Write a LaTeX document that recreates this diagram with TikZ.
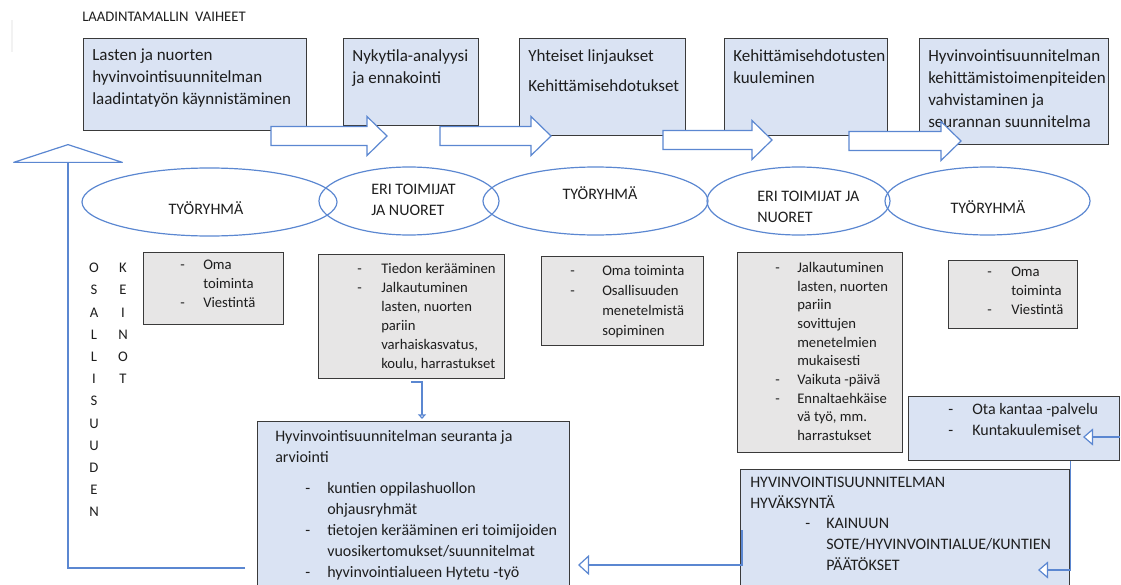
\documentclass[tikz,border=0pt]{standalone}
\usepackage{fontspec}
\setmainfont{Carlito}
\usetikzlibrary{positioning}
\usetikzlibrary{shapes.geometric}
\usetikzlibrary{arrows.meta}

\definecolor{laatikkosininen}{HTML}{DAE3F3}
\definecolor{laatikkoharmaa}{HTML}{E7E6E6}
\definecolor{viivasininen}{HTML}{5B87D1}
\definecolor{reunaharmaa}{HTML}{3A3A3A}
\definecolor{tekstimusta}{HTML}{1E1E1E}

\newcommand{\viiva}[1]{\makebox[#1][l]{-}}

\tikzset{
  laatikko/.style={draw=reunaharmaa, line width=1pt, fill=laatikkosininen, anchor=north west, inner sep=0pt},
  harmaa/.style={laatikko, fill=laatikkoharmaa},
  soikio/.style={ellipse, draw=viivasininen, line width=0.9pt, inner sep=0pt, minimum height=51pt},
  lohkonuoli/.style={draw=viivasininen, line width=0.9pt, fill=white},
  ohutnuoli/.style={draw=viivasininen, line width=0.9pt},
  teksti/.style={inner sep=0pt, align=left, text=tekstimusta},
  ylateksti/.style={teksti, font=\fontsize{12.75}{16.5}\selectfont},
  harmaateksti/.style={teksti, font=\fontsize{11}{14.25}\selectfont},
  alateksti/.style={teksti, font=\fontsize{12}{15.75}\selectfont},
  soikioteksti/.style={teksti, font=\fontsize{12}{16}\selectfont},
  pystyteksti/.style={teksti, align=center, anchor=north, font=\fontsize{11}{16.65}\selectfont},
}

\begin{document}
\begin{tikzpicture}[x=0.75pt, y=-0.75pt]
      \useasboundingbox (0,0) rectangle (1121,585);
      \clip (0,0) rectangle (1121,585);

      % otsikko
      \node[teksti, anchor=west, font=\fontsize{11}{13}\selectfont] (otsikko) at (82,17) {LAADINTAMALLIN\ \ VAIHEET};
      \draw[black!5, line width=1.5pt] (12,20) -- (12,52);

      % vaiheet
      \node[laatikko, minimum width=167.25pt, minimum height=69pt]    (kaynnistys) at (83,38)  {};
      \node[laatikko, minimum width=101.25pt, minimum height=65.25pt] (nykytila)   at (343,38) {};
      \node[laatikko, minimum width=124.5pt,  minimum height=72.75pt] (linjaukset) at (519,38) {};
      \node[laatikko, minimum width=122.25pt, minimum height=72.75pt] (kuuleminen) at (724,38) {};
      \node[laatikko, minimum width=141.75pt, minimum height=79.5pt]  (vahvistus)  at (919,38) {};

      \node[ylateksti, below right=8.25pt and 6.75pt of kaynnistys.north west] (kaynnistysteksti)
            {Lasten ja nuorten\\hyvinvointisuunnitelman\\laadintatyön käynnistäminen};
      \node[ylateksti, below right=8.25pt and 6.75pt of nykytila.north west]   (nykytilateksti)
            {Nykytila-analyysi\\ja ennakointi};
      \node[ylateksti, below right=8.25pt and 6.75pt of linjaukset.north west] (linjauksetteksti)
            {Yhteiset linjaukset\\[6pt]Kehittämisehdotukset};
      \node[ylateksti, below right=8.25pt and 6.75pt of kuuleminen.north west] (kuuleminenteksti)
            {Kehittämisehdotusten\\kuuleminen};
      \node[ylateksti, below right=8.25pt and 6.75pt of vahvistus.north west]  (vahvistusteksti)
            {Hyvinvointisuunnitelman\\kehittämistoimenpiteiden\\vahvistaminen ja\\seurannan suunnitelma};

      % nuolet vaiheiden välissä
      \foreach \xa/\xb/\yc in {271/367/136, 440/531/136, 663/752/140, 849/941/141}
            \draw[lohkonuoli] (\xa,\yc-9.5) -- (\xb,\yc-9.5) -- (\xb,\yc-19.5) -- (\xb+20,\yc)
                  -- (\xb,\yc+19.5) -- (\xb,\yc+9.5) -- (\xa,\yc+9.5) -- cycle;

      % toimijat
      \node[soikio, minimum width=191.25pt] (tyoryhma1) at (209.5,202) {};
      \node[soikio, minimum width=135pt]    (toimijat1) at (409,201)   {};
      \node[soikio, minimum width=168.75pt] (tyoryhma2) at (595.5,201) {};
      \node[soikio, minimum width=137.25pt] (toimijat2) at (798.5,201) {};
      \node[soikio, minimum width=153.75pt] (tyoryhma3) at (987.5,201) {};

      \node[soikioteksti]                    (tyoryhma1teksti) at (206,208) {TYÖRYHMÄ};
      \node[soikioteksti, anchor=north west] (toimijat1teksti) at (371,184) {ERI TOIMIJAT\\JA NUORET};
      \node[soikioteksti]                    (tyoryhma2teksti) at (600,193) {TYÖRYHMÄ};
      \node[soikioteksti, anchor=north west] (toimijat2teksti) at (757,191) {ERI TOIMIJAT JA\\NUORET};
      \node[soikioteksti]                    (tyoryhma3teksti) at (988,207) {TYÖRYHMÄ};

      % keinot
      \node[harmaa, minimum width=105pt,    minimum height=54pt]    (keino1) at (143,252) {};
      \node[harmaa, minimum width=139.5pt,  minimum height=93pt]    (keino2) at (318,254) {};
      \node[harmaa, minimum width=121.5pt,  minimum height=66.75pt] (keino3) at (541,256) {};
      \node[harmaa, minimum width=123.75pt, minimum height=150pt]   (keino4) at (737,252) {};
      \node[harmaa, minimum width=96.75pt,  minimum height=51pt]    (keino5) at (948,260) {};

      \node[harmaateksti, below right=6pt and 27.75pt of keino1.north west] (keino1teksti)
            {\viiva{17.25pt}Oma\\\hspace*{17.25pt}toiminta\\\viiva{17.25pt}Viestintä};
      \node[harmaateksti, below right=6.75pt and 29.25pt of keino2.north west] (keino2teksti)
            {\viiva{18pt}Tiedon kerääminen\\\viiva{18pt}Jalkautuminen\\\hspace*{18pt}lasten, nuorten\\
             \hspace*{18pt}pariin\\\hspace*{18pt}varhaiskasvatus,\\\hspace*{18pt}koulu, harrastukset};
      \node[harmaateksti, font=\fontsize{11}{15}\selectfont, below right=6.75pt and 21.75pt of keino3.north west] (keino3teksti)
            {\viiva{24pt}Oma toiminta\\\viiva{24pt}Osallisuuden\\\hspace*{24pt}menetelmistä\\\hspace*{24pt}sopiminen};
      \node[harmaateksti, font=\fontsize{11}{14}\selectfont, below right=7.5pt and 28.5pt of keino4.north west] (keino4teksti)
            {\viiva{16.5pt}Jalkautuminen\\\hspace*{16.5pt}lasten, nuorten\\\hspace*{16.5pt}pariin\\
             \hspace*{16.5pt}sovittujen\\\hspace*{16.5pt}menetelmien\\\hspace*{16.5pt}mukaisesti\\
             \viiva{16.5pt}Vaikuta -päivä\\\viiva{16.5pt}Ennaltaehkäise\\\hspace*{16.5pt}vä työ, mm.\\
             \hspace*{16.5pt}harrastukset};
      \node[harmaateksti, below right=5.25pt and 29.25pt of keino5.north west] (keino5teksti)
            {\viiva{18pt}Oma\\\hspace*{18pt}toiminta\\\viiva{18pt}Viestintä};

      % osallisuuden keinot
      \node[pystyteksti] (osallisuus) at (94,263)  {O\\S\\A\\L\\L\\I\\S\\U\\U\\D\\E\\N};
      \node[pystyteksti] (keinot)     at (123,263) {K\\E\\I\\N\\O\\T};

      % kuuleminen, hyväksyntä, seuranta
      \node[laatikko, minimum width=158.25pt, minimum height=48pt]    (otakantaa)  at (908,396) {};
      \node[laatikko, minimum width=246.75pt, minimum height=99pt]    (hyvaksynta) at (740,469) {};
      \node[laatikko, minimum width=234pt,    minimum height=134.25pt] (seuranta)  at (257,421) {};

      \node[alateksti, below right=5.25pt and 30pt of otakantaa.north west] (otakantaateksti)
            {\viiva{18pt}Ota kantaa -palvelu\\\viiva{18pt}Kuntakuulemiset};
      \node[alateksti, below right=6pt and 7.5pt of hyvaksynta.north west] (hyvaksyntaotsikko)
            {HYVINVOINTISUUNNITELMAN\\HYVÄKSYNTÄ};
      \node[alateksti, below right=36.75pt and 48.75pt of hyvaksynta.north west] (hyvaksyntalista)
            {\viiva{15.75pt}KAINUUN\\\hspace*{15.75pt}SOTE/HYVINVOINTIALUE/KUNTIEN\\\hspace*{15.75pt}PÄÄTÖKSET};
      \node[alateksti, below right=6.75pt and 13.5pt of seuranta.north west] (seurantaotsikko)
            {Hyvinvointisuunnitelman seuranta ja\\arviointi};
      \node[alateksti, below right=45.75pt and 36pt of seuranta.north west] (seurantalista)
            {\viiva{16.5pt}kuntien oppilashuollon\\\hspace*{16.5pt}ohjausryhmät\\
             \viiva{16.5pt}tietojen kerääminen eri toimijoiden\\\hspace*{16.5pt}vuosikertomukset/suunnitelmat\\
             \viiva{16.5pt}hyvinvointialueen Hytetu -työ};

      % yhteydet
      \coordinate (osallisuuskarki) at (68,144);
      \coordinate (osallisuusalku)  at (245,568);
      \coordinate (keino2lahto)     at (411,382);
      \coordinate (seurantatulo)    at (422,419);
      \coordinate (otakarki)        at (1083,437);
      \coordinate (hyvaksyntakarki) at (1038,570);
      \coordinate (hyvaksyntalahto) at (742,530);
      \coordinate (seurantakarki)   at (578,565);

      \draw[ohutnuoli, -{Triangle[length=14.25pt, width=87pt, fill=white, round]}]
            (osallisuusalku) -| (osallisuuskarki);
      \draw[ohutnuoli, -{Triangle[length=3.5pt, width=6pt, fill=white]}]
            (keino2lahto) -| (seurantatulo);
      \draw[ohutnuoli, -{Triangle[length=7.5pt, width=12.75pt, fill=white]}]
            (otakantaa.east |- otakarki) -- (otakarki);
      \draw[ohutnuoli, -{Triangle[length=7.5pt, width=12.75pt, fill=white]}]
            (otakantaa.south -| hyvaksynta.east) |- (hyvaksyntakarki);
      \draw[ohutnuoli, -{Triangle[length=8.25pt, width=15pt, fill=white]}]
            (hyvaksyntalahto) |- (seurantakarki);
\end{tikzpicture}
\end{document}
